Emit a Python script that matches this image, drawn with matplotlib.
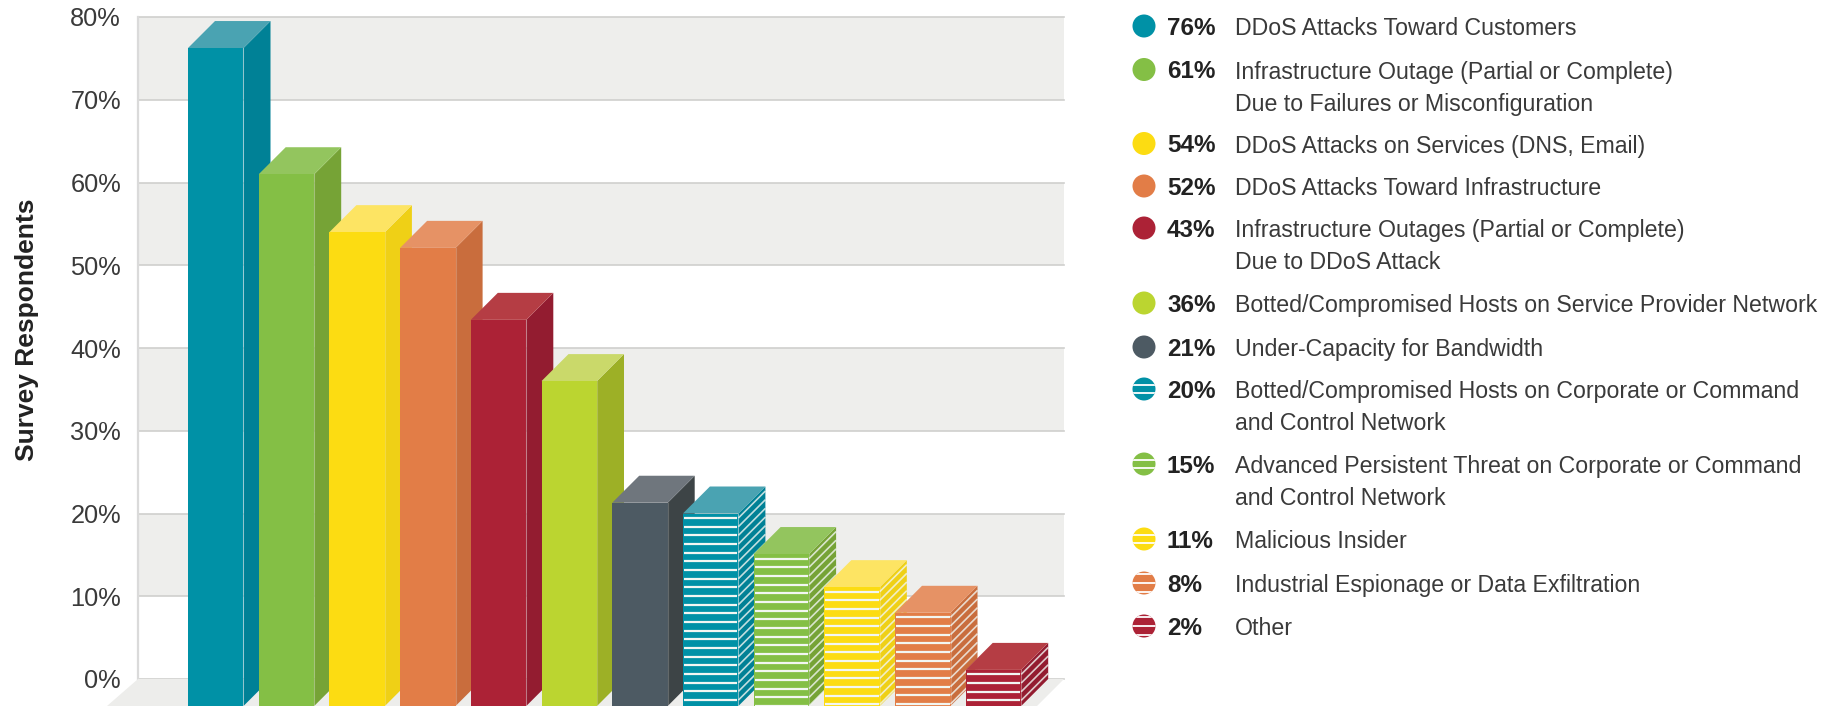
import matplotlib
matplotlib.use("Agg")
import matplotlib.pyplot as plt
from matplotlib.patches import Polygon, Rectangle, Circle

plt.rcParams['font.family'] = ['Liberation Sans', 'DejaVu Sans']

categories = ["DDoS Attacks Toward Customers",
              "Infrastructure Outage (Partial or Complete)\nDue to Failures or Misconfiguration",
              "DDoS Attacks on Services (DNS, Email)",
              "DDoS Attacks Toward Infrastructure",
              "Infrastructure Outages (Partial or Complete)\nDue to DDoS Attack",
              "Botted/Compromised Hosts on Service Provider Network",
              "Under-Capacity for Bandwidth",
              "Botted/Compromised Hosts on Corporate or Command\nand Control Network",
              "Advanced Persistent Threat on Corporate or Command\nand Control Network",
              "Malicious Insider",
              "Industrial Espionage or Data Exfiltration",
              "Other"]
labels_pct = [76, 61, 54, 52, 43, 36, 21, 20, 15, 11, 8, 2]
bar_heights = [76.25, 61, 54, 52.1, 43.4, 36, 21.3, 20, 15.1, 11.1, 8, 1.1]
striped = [False] * 7 + [True] * 5
front_colors = ['#0091A6', '#84BF45', '#FCDC12', '#E27D47', '#AC2236', '#BBD530', '#4D5A63',
                '#0091A6', '#84BF45', '#FCDC12', '#E27D47', '#AC2236']
side_colors = ['#008196', '#76A336', '#EFD016', '#C96D3D', '#931C30', '#9DB026', '#3D4446',
               '#008196', '#76A336', '#EFD016', '#C96D3D', '#931C30']
top_colors = ['#4AA3B2', '#93C55E', '#FDE463', '#E69265', '#B53D44', '#CAD96A', '#6F767D',
              '#4AA3B2', '#93C55E', '#FDE463', '#E69265', '#B53D44']
yticks = [0, 10, 20, 30, 40, 50, 60, 70, 80]
legend_rows = [26, 69.5, 143.5, 186, 228, 303, 347, 389, 464, 539, 583, 626]
legend_stripes = [[], [], [], [], [], [], [], [-4.5, 3.5], [-4.5, 3.5], [-4, 4],
                  [-8.7, 0, 8.7], [-8.7, 0, 8.7]]

W, H = 1843, 706
fig = plt.figure(figsize=(W / 100, H / 100), dpi=100, facecolor='white')
L, R, T, B = 138, 1064, 17, 679
ax = fig.add_axes([L / W, 1 - B / H, (R - L) / W, (B - T) / H])
ax.set_xlim(L, R)          # x in image pixels for layout
ax.set_ylim(0, 80)
for s in ax.spines.values():
    s.set_visible(False)
ax.set_xticks([])
ax.set_yticks(yticks)
ax.set_yticklabels([f"{t}%" for t in yticks], fontsize=18.3, color='#3A3A3A')
ax.tick_params(axis='y', length=0, pad=12.2)
ax.set_ylabel("Survey Respondents", fontsize=19, fontweight='bold', color='#222222', labelpad=0)
ax.yaxis.set_label_coords((39 - L) / (R - L), (B - 330) / (B - T))

# wall bands and gridlines
for lo in range(10, 80, 20):
    ax.add_patch(Rectangle((L, lo), R - L, 10, fc='#EEEEEC', ec='none', zorder=0))
for t in yticks:
    ax.plot([L, R], [t, t], color='#CFCFCD', lw=1.2, zorder=1, clip_on=False)
ax.plot([L, L], [0, 80], color='#DADADA', lw=1.6, zorder=1, clip_on=False)

# floor
unit = (B - T) / 80
dz = 27 / unit
ax.add_patch(Polygon([(L, 0), (R, 0), (R - 27, -dz), (L - 31, -dz)], closed=True,
                     fc='#EDEDEB', ec='none', zorder=1, clip_on=False))

# bars
x0, pitch, w, dx = 188, 70.7, 55.5, 27
spacing = 8.67 / unit
for i, v in enumerate(bar_heights):
    x = x0 + pitch * i
    z = 2 + i
    base = -dz
    ax.add_patch(Polygon([(x + w, base), (x + w + dx, base + dz), (x + w + dx, v + dz), (x + w, v)],
                         closed=True, fc=side_colors[i], ec='none', zorder=z, clip_on=False))
    ax.add_patch(Polygon([(x, v), (x + w, v), (x + w + dx, v + dz), (x + dx, v + dz)],
                         closed=True, fc=top_colors[i], ec='none', zorder=z, clip_on=False))
    ax.add_patch(Rectangle((x, base), w, v - base, fc=front_colors[i], ec='none', zorder=z, clip_on=False))
    ax.plot([x + w, x + w], [base, v], color='white', alpha=0.2, lw=0.8, zorder=z, clip_on=False)
    if striped[i]:
        s = v - 4.5 / unit
        while s > base:
            ax.plot([x + 1, x + w - 1], [s, s], color='#F2F6F2', lw=1.6, solid_capstyle='butt',
                    zorder=z + 0.1, clip_on=False)
            ax.plot([x + w, x + w + dx], [s, s + dz], color='#F2F6F2', alpha=0.8, lw=1.2,
                    solid_capstyle='butt', zorder=z + 0.1, clip_on=False)
            s -= spacing

# legend, laid out in image pixels
lg = fig.add_axes([0, 0, 1, 1], facecolor='none')
lg.set_xlim(0, W)
lg.set_ylim(H, 0)
lg.axis('off')
for i, (name, pct, y) in enumerate(zip(categories, labels_pct, legend_rows)):
    c = Circle((1144, y), 11.5, fc=front_colors[i], ec='none')
    lg.add_patch(c)
    for off in legend_stripes[i]:
        ln, = lg.plot([1130, 1158], [y + off, y + off], color='white', lw=1.3, solid_capstyle='butt')
        ln.set_clip_path(c)
    lg.text(1167, y, f"{pct}%", fontsize=17.5, fontweight='bold', color='#222222', va='center_baseline')
    for j, line in enumerate(name.split("\n")):
        lg.text(1235, y + 32 * j, line, fontsize=16.7, color='#3A3A3A', va='center_baseline')

fig.savefig("out.png", dpi=100)
